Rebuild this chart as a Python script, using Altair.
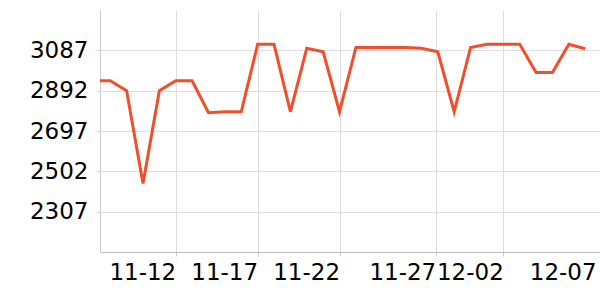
import altair as alt
import pandas as pd

dates = [
    "2023-11-07", "2023-11-08", "2023-11-09", "2023-11-10", "2023-11-11",
    "2023-11-12", "2023-11-13", "2023-11-14", "2023-11-15", "2023-11-16",
    "2023-11-17", "2023-11-18", "2023-11-19", "2023-11-20", "2023-11-21",
    "2023-11-22", "2023-11-23", "2023-11-24", "2023-11-25", "2023-11-26",
    "2023-11-27", "2023-11-28", "2023-11-29", "2023-11-30", "2023-12-01",
    "2023-12-02", "2023-12-03", "2023-12-04", "2023-12-05", "2023-12-06",
    "2023-12-07",
]
values = [
    2940, 2940, 2892, 2443, 2892,
    2940, 2940, 2785, 2790, 2790,
    3116, 3116, 2790, 3097, 3080,
    2790, 3101, 3101, 3101, 3101,
    3097, 3080, 2790, 3101, 3116,
    3116, 3116, 2980, 2980, 3116,
    3095,
]
y_ticks = [2307, 2502, 2697, 2892, 3087]
y_domain = [2112, 3282]

df = pd.DataFrame({"date": dates, "value": values})

x_ticks = [
    alt.DateTime(year=2023, month=11, date=12, utc=True),
    alt.DateTime(year=2023, month=11, date=17, utc=True),
    alt.DateTime(year=2023, month=11, date=22, utc=True),
    alt.DateTime(year=2023, month=11, date=27, hours=21, utc=True),
    alt.DateTime(year=2023, month=12, date=2, utc=True),
    alt.DateTime(year=2023, month=12, date=7, hours=16, utc=True),
]
x_domain = [
    alt.DateTime(year=2023, month=11, date=7, hours=9, utc=True),
    alt.DateTime(year=2023, month=12, date=7, hours=21, minutes=40, utc=True),
]

FONT = "DejaVu Sans"
last_tick = "utcFormat(datum.value, '%m-%d') == '12-07'"

chart = alt.Chart(df).mark_line(
    color="#f04e2c", strokeWidth=3, clip=True
).encode(
    x=alt.X(
        "date:T",
        scale=alt.Scale(type="utc", domain=x_domain),
        axis=alt.Axis(
            values=x_ticks,
            labelExpr="utcFormat(datum.value, '%m-%d')",
            title=None,
            labelAlign="right",
            labelFontSize=23,
            labelFont=FONT,
            labelColor="#000",
            labelPadding=5,
            tickSize=4,
            tickColor="#ccc",
            domainColor="#bbb",
            gridColor="#ddd",
            gridOpacity={"condition": {"test": last_tick, "value": 0}, "value": 1},
            tickOpacity={"condition": {"test": last_tick, "value": 0}, "value": 1},
            labelOverlap=False,
            labelBound=False,
            labelFlush=False,
        ),
    ),
    y=alt.Y(
        "value:Q",
        scale=alt.Scale(domain=y_domain, nice=False, zero=False),
        axis=alt.Axis(
            values=y_ticks,
            format="d",
            title=None,
            labelFontSize=23,
            labelFont=FONT,
            labelColor="#000",
            labelPadding=9,
            tickSize=3,
            tickColor="#ccc",
            domainColor="#ccc",
            gridColor="#ddd",
        ),
    ),
).properties(
    width=500,
    height=242,
    padding={"left": 100, "top": 10, "right": 0, "bottom": 48},
    autosize="none",
).configure_view(stroke=None)

chart.save("out.html", embed_options={"renderer": "svg", "actions": False})
